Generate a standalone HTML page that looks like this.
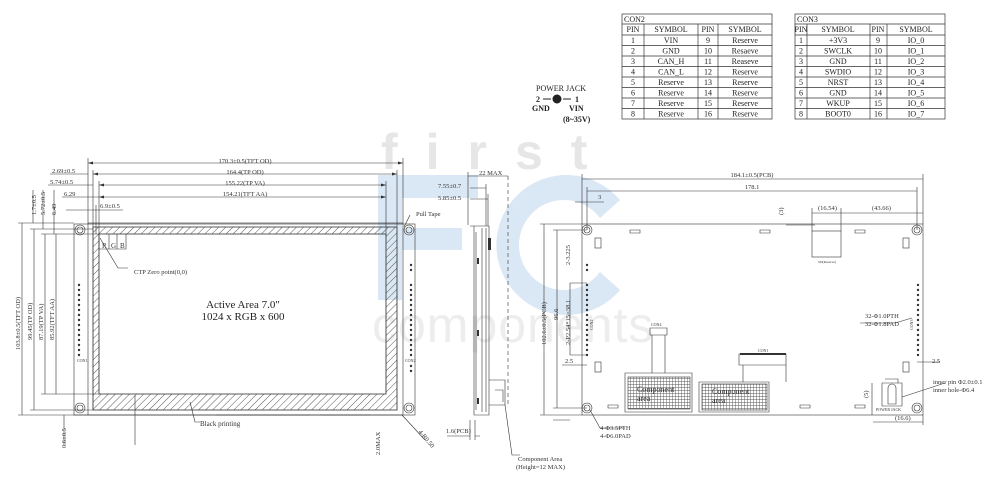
<!DOCTYPE html>
<html><head><meta charset="utf-8"><style>
html,body{margin:0;padding:0;background:#fff;}
svg{display:block;font-family:"Liberation Serif",serif;}
</style></head><body>
<svg width="1000" height="481" viewBox="0 0 1000 481" xmlns="http://www.w3.org/2000/svg">
<defs>
<pattern id="hatch" width="5" height="5" patternUnits="userSpaceOnUse" patternTransform="rotate(45)">
<line x1="0" y1="0" x2="0" y2="5" stroke="#444" stroke-width="0.9"/>
</pattern>
<pattern id="grid" width="3" height="3" patternUnits="userSpaceOnUse">
<rect width="3" height="3" fill="#fff"/>
<path d="M0 0H3M0 0V3" stroke="#555" stroke-width="0.9"/>
</pattern>
</defs>

<!-- watermark -->
<text x="381" y="169" font-family="Liberation Sans,sans-serif" font-size="50" font-weight="bold" fill="#e6e6e6" letter-spacing="28">first</text>
<path d="M378 175H478V198H402V228H462V250H402V300H378Z" fill="#dae7f4"/>
<path d="M620 200 A70 70 0 1 0 620 290 L600 272 A45 45 0 1 1 600 218 Z" fill="#dae7f4"/>
<text x="372" y="342" font-family="Liberation Sans,sans-serif" font-size="50" fill="#ededed" letter-spacing="1">components</text>

<g stroke="#333" stroke-width="0.7" fill="none">
<!-- tables -->
<rect x="622" y="14" width="150" height="105"/>
<line x1="622" y1="24" x2="772" y2="24"/>
<line x1="622" y1="35" x2="772" y2="35"/>
<line x1="644" y1="24" x2="644" y2="119"/><line x1="698" y1="24" x2="698" y2="119"/><line x1="718" y1="24" x2="718" y2="119"/>
<rect x="795" y="14" width="150" height="105"/>
<line x1="795" y1="24" x2="945" y2="24"/>
<line x1="795" y1="35" x2="945" y2="35"/>
<line x1="807" y1="24" x2="807" y2="119"/><line x1="870" y1="24" x2="870" y2="119"/><line x1="887" y1="24" x2="887" y2="119"/>
<path d="M622 45.5H772M622 56H772M622 66.5H772M622 77H772M622 87.5H772M622 98H772M622 108.5H772"/>
<path d="M795 45.5H945M795 56H945M795 66.5H945M795 77H945M795 87.5H945M795 98H945M795 108.5H945"/>
</g>
<g font-size="8" fill="#222" text-anchor="middle">
<text x="624" y="22" text-anchor="start">CON2</text>
<text x="633" y="32">PIN</text><text x="671" y="32">SYMBOL</text><text x="708" y="32">PIN</text><text x="745" y="32">SYMBOL</text>
<text x="633" y="43">1</text><text x="671" y="43">VIN</text><text x="708" y="43">9</text><text x="745" y="43">Reserve</text>
<text x="633" y="53.5">2</text><text x="671" y="53.5">GND</text><text x="708" y="53.5">10</text><text x="745" y="53.5">Resaeve</text>
<text x="633" y="64">3</text><text x="671" y="64">CAN_H</text><text x="708" y="64">11</text><text x="745" y="64">Reaseve</text>
<text x="633" y="74.5">4</text><text x="671" y="74.5">CAN_L</text><text x="708" y="74.5">12</text><text x="745" y="74.5">Reserve</text>
<text x="633" y="85">5</text><text x="671" y="85">Reserve</text><text x="708" y="85">13</text><text x="745" y="85">Reserve</text>
<text x="633" y="95.5">6</text><text x="671" y="95.5">Reserve</text><text x="708" y="95.5">14</text><text x="745" y="95.5">Reserve</text>
<text x="633" y="106">7</text><text x="671" y="106">Reserve</text><text x="708" y="106">15</text><text x="745" y="106">Reserve</text>
<text x="633" y="116.5">8</text><text x="671" y="116.5">Reserve</text><text x="708" y="116.5">16</text><text x="745" y="116.5">Reserve</text>
<text x="797" y="22" text-anchor="start">CON3</text>
<text x="801" y="32">PIN</text><text x="838" y="32">SYMBOL</text><text x="878" y="32">PIN</text><text x="916" y="32">SYMBOL</text>
<text x="801" y="43">1</text><text x="838" y="43">+3V3</text><text x="878" y="43">9</text><text x="916" y="43">IO_0</text>
<text x="801" y="53.5">2</text><text x="838" y="53.5">SWCLK</text><text x="878" y="53.5">10</text><text x="916" y="53.5">IO_1</text>
<text x="801" y="64">3</text><text x="838" y="64">GND</text><text x="878" y="64">11</text><text x="916" y="64">IO_2</text>
<text x="801" y="74.5">4</text><text x="838" y="74.5">SWDIO</text><text x="878" y="74.5">12</text><text x="916" y="74.5">IO_3</text>
<text x="801" y="85">5</text><text x="838" y="85">NRST</text><text x="878" y="85">13</text><text x="916" y="85">IO_4</text>
<text x="801" y="95.5">6</text><text x="838" y="95.5">GND</text><text x="878" y="95.5">14</text><text x="916" y="95.5">IO_5</text>
<text x="801" y="106">7</text><text x="838" y="106">WKUP</text><text x="878" y="106">15</text><text x="916" y="106">IO_6</text>
<text x="801" y="116.5">8</text><text x="838" y="116.5">BOOT0</text><text x="878" y="116.5">16</text><text x="916" y="116.5">IO_7</text>
</g>
<!-- power jack -->
<g font-size="8" fill="#222" font-weight="bold">
<text x="536" y="91" font-weight="normal">POWER JACK</text>
<text x="536" y="102">2</text><text x="575" y="102">1</text>
<text x="532" y="111">GND</text><text x="569" y="111">VIN</text>
<text x="563" y="122">(8~35V)</text>
</g>
<g stroke="#222" stroke-width="1" fill="none"><path d="M543 99H551M563 99H571"/><circle cx="557" cy="99" r="4" fill="#222"/></g>

<g stroke="#333" stroke-width="0.6" fill="none">
<!-- front view -->
<rect x="74" y="224" width="341" height="191"/>
<rect x="88" y="223" width="315" height="192"/>
<path d="M93 227H397V410H93Z M99 234V394H386V234Z" fill="url(#hatch)" fill-rule="evenodd"/>
<rect x="93" y="227" width="304" height="183"/>
<rect x="99" y="234" width="287" height="160"/>
<path d="M99 234V249H126V234M109 234V249M117 234V249"/>
<circle cx="80" cy="230" r="5"/><circle cx="80" cy="230" r="3"/>
<circle cx="80" cy="408" r="5"/><circle cx="80" cy="408" r="3"/>
<circle cx="409" cy="230" r="5"/><circle cx="409" cy="230" r="3"/>
<circle cx="409" cy="408" r="5"/><circle cx="409" cy="408" r="3"/>
<path d="M216 415H310M320 415H370"/>
<!-- top dims -->
<path d="M88 163H403M93 174H397M99 185H386M99 197H386M88 158V223M403 158V223M93 170V227M397 170V227M99 181V234M386 181V234"/>
<path d="M50 174H88M48 185H93M62 197H99M66 210H123M96 205V234"/>
<!-- left dims -->
<path d="M22 223V415M34 229V410M45 234V394M56 234V394"/>
<path d="M18 223H74M30 229H93M41 234H99M52 234H99M18 415H88M30 410H93M41 394H99M52 394H99"/>
<path d="M33 190V223M43 190V229M54 190V234M64 415V445M135 395V445"/>
<path d="M100 238L118 268H128M190 402L195 422H200M402 415L425 440"/>
<path d="M404 227L410 215"/>
</g>
<g fill="#333"><path d="M88 163l5 -1.5v3zM403 163l-5 -1.5v3zM93 174l5 -1.5v3zM397 174l-5 -1.5v3zM99 185l5 -1.5v3zM386 185l-5 -1.5v3zM99 197l5 -1.5v3zM386 197l-5 -1.5v3z"/></g>
<g fill="#333">
<circle cx="79" cy="285" r="1.2"/><circle cx="79" cy="290" r="1.2"/><circle cx="79" cy="295" r="1.2"/><circle cx="79" cy="300" r="1.2"/><circle cx="79" cy="305" r="1.2"/><circle cx="79" cy="310" r="1.2"/><circle cx="79" cy="315" r="1.2"/><circle cx="79" cy="320" r="1.2"/><circle cx="79" cy="325" r="1.2"/><circle cx="79" cy="330" r="1.2"/><circle cx="79" cy="335" r="1.2"/><circle cx="79" cy="340" r="1.2"/><circle cx="79" cy="345" r="1.2"/><circle cx="79" cy="350" r="1.2"/><circle cx="79" cy="355" r="1.2"/>
<circle cx="411" cy="265" r="1.2"/><circle cx="411" cy="270" r="1.2"/>
<circle cx="411" cy="285" r="1.2"/><circle cx="411" cy="290" r="1.2"/><circle cx="411" cy="295" r="1.2"/><circle cx="411" cy="300" r="1.2"/><circle cx="411" cy="305" r="1.2"/><circle cx="411" cy="310" r="1.2"/><circle cx="411" cy="315" r="1.2"/><circle cx="411" cy="320" r="1.2"/><circle cx="411" cy="325" r="1.2"/><circle cx="411" cy="330" r="1.2"/><circle cx="411" cy="335" r="1.2"/><circle cx="411" cy="340" r="1.2"/><circle cx="411" cy="345" r="1.2"/><circle cx="411" cy="350" r="1.2"/><circle cx="411" cy="355" r="1.2"/>
<circle cx="411" cy="366" r="1.2"/><circle cx="411" cy="371" r="1.2"/>
</g>
<g font-size="6.5" fill="#333">
<text x="245" y="163" text-anchor="middle">170.3±0.5(TFT OD)</text>
<text x="245" y="174" text-anchor="middle">164.4(TP OD)</text>
<text x="245" y="185" text-anchor="middle">155.22(TP VA)</text>
<text x="245" y="196" text-anchor="middle">154.21(TFT AA)</text>
<text x="52" y="173">2.69±0.5</text><text x="50" y="184">5.74±0.5</text><text x="64" y="196">6.29</text><text x="100" y="208">6.9±0.5</text>
<text transform="translate(36 215) rotate(-90)">1.7±0.5</text>
<text transform="translate(45 215) rotate(-90)">5.72±0.5</text>
<text transform="translate(56 215) rotate(-90)">6.49</text>
<text transform="translate(20 350) rotate(-90)">103.8±0.5(TFT OD)</text>
<text transform="translate(32 340) rotate(-90)">99.45(TP OD)</text>
<text transform="translate(43 340) rotate(-90)">87.19(TP VA)</text>
<text transform="translate(54 340) rotate(-90)">85.92(TFT AA)</text>
<text transform="translate(66 448) rotate(-90)">0.6±0.5</text>
<text transform="translate(380 455) rotate(-90)">2.0MAX</text>
<text transform="translate(418 432) rotate(50)">4-R0.50</text>
<text x="102" y="248" font-size="7">R</text><text x="111" y="248" font-size="7">G</text><text x="120" y="248" font-size="7">B</text>
<text x="134" y="274">CTP Zero point(0,0)</text>
<text x="200" y="426" font-size="7">Black printing</text>
<text x="416" y="216">Pull Tape</text>
<text x="77" y="362" font-size="4">CON1</text><text x="405" y="362" font-size="4">CON2</text>
</g>
<text x="243" y="308" font-size="11" text-anchor="middle" fill="#222">Active Area 7.0"</text>
<text x="243" y="320" font-size="11" text-anchor="middle" fill="#222">1024 x RGB x 600</text>

<!-- side view -->
<g stroke="#333" stroke-width="0.6" fill="none">
<path d="M470 226H489V415H474V226M476 232V410M482 228V412M486 228V412"/>
<path d="M489 380H505V405H489M495 390H503V402"/>
<path d="M508 176V405" stroke-dasharray="4,3"/>
<path d="M468 176H508M468 172V225M470 188H486M470 199H488M486 184V226M488 194V226"/>
<path d="M447 436H470M475 436H480M470 420V440M475 420V440"/>
<path d="M505 405L512 455H520"/>
</g>
<g fill="#333"><rect x="477" y="258" width="2" height="6"/><rect x="477" y="330" width="2" height="6"/><rect x="477" y="398" width="2" height="6"/><rect x="488" y="238" width="3" height="12"/></g>
<g font-size="6.5" fill="#333">
<text x="479" y="175">22 MAX</text><text x="438" y="188">7.55±0.7</text><text x="438" y="200">5.85±0.5</text>
<text x="446" y="433">1.6(PCB)</text>
<text x="518" y="461">Component Area</text><text x="516" y="469">(Height=12 MAX)</text>
</g>

<!-- back view -->
<g stroke="#333" stroke-width="0.6" fill="none">
<rect x="582" y="224" width="341" height="191"/>
<circle cx="587" cy="230" r="5"/><circle cx="587" cy="230" r="3"/>
<circle cx="917" cy="230" r="5"/><circle cx="917" cy="230" r="3"/>
<circle cx="587" cy="408" r="5"/><circle cx="587" cy="408" r="3"/>
<circle cx="917" cy="408" r="5"/><circle cx="917" cy="408" r="3"/>
<path d="M582 179H923M587 191H917M582 174V224M923 174V224M587 187V230M917 187V230M575 202H604"/>
<path d="M544 224V415M557 230V408M540 224H582M553 230H587M540 415H582M553 408H587M553 420H570"/>
<path d="M812 208V231M841 208V231M812 213H923M786 225H815"/>
<rect x="812" y="231" width="29" height="26"/>
<path d="M630 230h10v3h-10zM760 230h10v3h-10zM855 230h10v3h-10zM608 405h10v3h-10zM800 405h10v3h-10zM855 405h10v3h-10z"/>
<rect x="595" y="238" width="6" height="10"/><rect x="903" y="238" width="6" height="10"/>
<rect x="595" y="362" width="6" height="10"/><rect x="903" y="362" width="6" height="10"/>
<path d="M570 283V355M570 283H587M570 355H587M562 365H587"/>
<path d="M625 373H692V412H625Z M652 373V335H665V373 M650 328H667V335H650Z"/>
<path d="M699 382H769V412H699Z M743 382V365H786V382 M739 354H786V365H739Z"/>
<path d="M882 383H902V406H882Z M885 379H898V383 M888 388A4 4 0 0 1 896 388V404H888Z"/>
<path d="M902 397L945 383M872 383V415M873 422H923M923 415V425M940 362H917"/>
<path d="M912 318L895 323H860M590 410L600 428H625"/>
</g>
<rect x="628" y="377" width="62" height="32" fill="url(#grid)" stroke="#333" stroke-width="0.6"/>
<rect x="702" y="384" width="65" height="26" fill="url(#grid)" stroke="#333" stroke-width="0.6"/>
<g fill="#333">
<circle cx="587" cy="265" r="1.2"/><circle cx="587" cy="270" r="1.2"/>
<circle cx="587" cy="285" r="1.2"/><circle cx="587" cy="290" r="1.2"/><circle cx="587" cy="295" r="1.2"/><circle cx="587" cy="300" r="1.2"/><circle cx="587" cy="305" r="1.2"/><circle cx="587" cy="310" r="1.2"/><circle cx="587" cy="315" r="1.2"/><circle cx="587" cy="320" r="1.2"/><circle cx="587" cy="325" r="1.2"/><circle cx="587" cy="330" r="1.2"/><circle cx="587" cy="335" r="1.2"/><circle cx="587" cy="340" r="1.2"/><circle cx="587" cy="345" r="1.2"/><circle cx="587" cy="350" r="1.2"/><circle cx="587" cy="355" r="1.2"/>
<circle cx="918" cy="285" r="1.2"/><circle cx="918" cy="290" r="1.2"/><circle cx="918" cy="295" r="1.2"/><circle cx="918" cy="300" r="1.2"/><circle cx="918" cy="305" r="1.2"/><circle cx="918" cy="310" r="1.2"/><circle cx="918" cy="315" r="1.2"/><circle cx="918" cy="320" r="1.2"/><circle cx="918" cy="325" r="1.2"/><circle cx="918" cy="330" r="1.2"/><circle cx="918" cy="335" r="1.2"/><circle cx="918" cy="340" r="1.2"/><circle cx="918" cy="345" r="1.2"/><circle cx="918" cy="350" r="1.2"/><circle cx="918" cy="355" r="1.2"/>
<rect x="740" y="353" width="46" height="2"/>
</g>
<g font-size="6.5" fill="#333">
<text x="752" y="177" text-anchor="middle">184.1±0.5(PCB)</text>
<text x="752" y="189" text-anchor="middle">178.1</text>
<text x="598" y="199">3</text>
<text x="818" y="210">(16.54)</text><text x="872" y="210">(43.66)</text>
<text transform="translate(783 215) rotate(-90)">(3)</text>
<text transform="translate(546 345) rotate(-90)">102.6±0.5(PCB)</text>
<text transform="translate(558 320) rotate(-90)">96.6</text>
<text transform="translate(570 265) rotate(-90)">2-3.225</text>
<text transform="translate(570 345) rotate(-90)">2-P2.54*15=38.1</text>
<text x="565" y="363">2.5</text><text x="932" y="363">2.5</text>
<text x="865" y="318">32-Φ1.0PTH</text><text x="865" y="326">32-Φ1.8PAD</text>
<text x="933" y="384">inner pin Φ2.0±0.1</text><text x="933" y="392">inner hole-Φ6.4</text>
<text x="895" y="420">(16.6)</text>
<text transform="translate(868 398) rotate(-90)">(5)</text>
<text x="600" y="430">4-Φ3.5PTH</text><text x="600" y="438">4-Φ6.0PAD</text>
<text x="637" y="392" font-size="8">Component</text><text x="637" y="401" font-size="8">area</text>
<text x="712" y="394" font-size="8">Component</text><text x="712" y="403" font-size="8">area</text>
<text x="651" y="326" font-size="4">CON4</text><text x="758" y="352" font-size="4">CON1</text>
<text x="876" y="411" font-size="4">POWER JACK</text><text x="818" y="263" font-size="3.5">SD(Reserve)</text>
<text transform="translate(593 330) rotate(-90)" font-size="4">CON2</text>
<text transform="translate(913 330) rotate(-90)" font-size="4">CON3</text>
</g>
</svg>
</body></html>
